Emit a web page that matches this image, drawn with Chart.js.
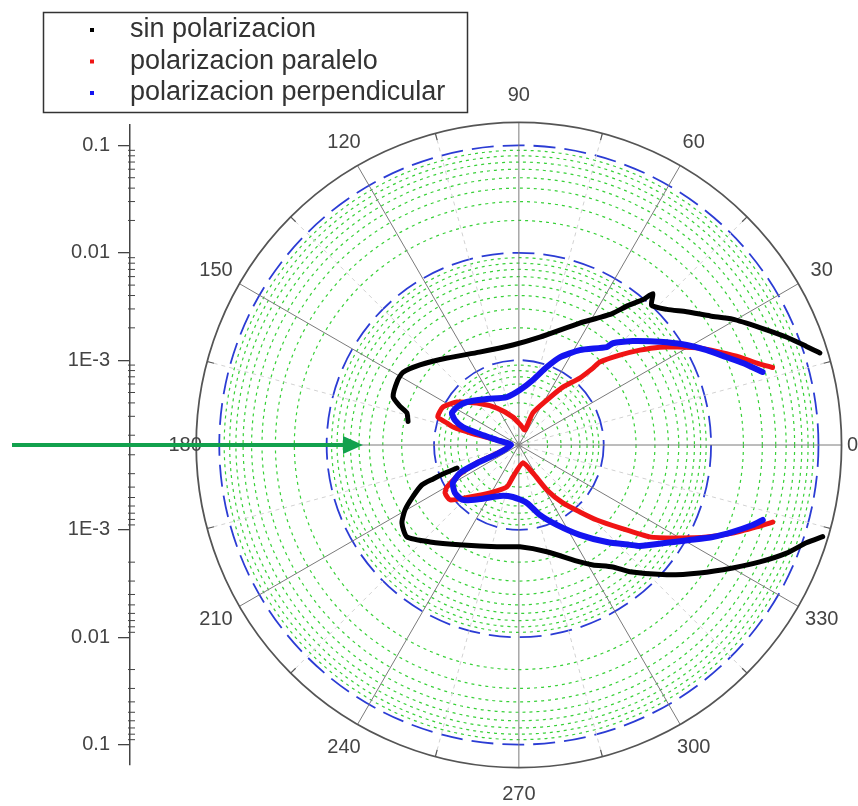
<!DOCTYPE html>
<html>
<head>
<meta charset="utf-8">
<script src="https://cdn.jsdelivr.net/npm/chart.js@4/dist/chart.umd.min.js"></script>
<style>
  html, body { margin: 0; padding: 0; background: #fff; }
  #wrap { width: 858px; height: 806px; }
</style>
</head>
<body>
<div id="wrap"><canvas id="polarChart" width="858" height="806"></canvas></div>
<script>
// Intensidad vs angulo (grados), eje radial logaritmico
const seriesNames = ['sin polarizacion', 'polarizacion paralelo', 'polarizacion perpendicular'];
const seriesColors = ['#000000', '#f01414', '#1414f0'];

// sin polarizacion (null = hueco en los datos)
const blackAngle = [17, 19, 22, 26, 30.5, 34, 38.5, 42.5, 46.5, 48.5, 49.5, 52, 54.5, 57.5, 63.5, 79, 93.5, 113, 129.5, 141, 148, 152, 159, 162, 164, 168,
  null,
  200.4, 200.8, 201.6, 202.4, 206, 209.7, 213.7, 219.4, 227.5, 240.8, 257.8, 270.6, 284.7, 297.5, 301.7, 307.6, 311.2, 318.7, 324.7, 330.1, 334.1, 338, 341.2, 343.2];
const blackValue = [0.138, 0.109, 0.0785, 0.0508, 0.0331, 0.0229, 0.016, 0.012, 0.0101, 0.0124, 0.0098, 0.0072, 0.0052, 0.00416, 0.00301, 0.00171, 0.00139, 0.00141, 0.00182, 0.00248, 0.00305, 0.00308, 0.00291, 0.00236, 0.00197, 0.00184,
  null,
  0.000667, 0.000881, 0.00117, 0.00154, 0.00203, 0.00269, 0.0033, 0.00362, 0.00272, 0.00189, 0.00151, 0.00144, 0.00173, 0.00274, 0.00333, 0.0044, 0.00601, 0.011, 0.0187, 0.0321, 0.0505, 0.0791, 0.109, 0.146];

// polarizacion paralelo
const redAngle = [17, 19, 21.7, 24.8, 28.2, 31.8, 34.8, 38.1, 41.7, 45.7, 46.1, 47.7, 52.8, 58.1, 66.4, 68.2, 85, 102, 120.7, 135, 145.3, 153.4, 160.9, 163, 164.7, 166, 167, 180,
  200.9, 203, 206.5, 210.3, 213, 218.6, 226.7, 238.9, 254, 259.4, 282.5, 296.6, 301.9, 307.2, 312.3, 316.1, 320.6, 324.9, 329.5, 333.9, 337.6, 341, 343.1];
const redValue = [0.0478, 0.0358, 0.0265, 0.0186, 0.0132, 0.00871, 0.00641, 0.00438, 0.00294, 0.00195, 0.0016, 0.00113, 0.000771, 0.000505, 0.000344, 0.00023, 0.000249, 0.000299, 0.000407, 0.00058, 0.000817, 0.001, 0.00102, 0.000813, 0.000701, 0.00046, 0.000263, 0.000192,
  0.000262, 0.00043, 0.00068, 0.000968, 0.00107, 0.00107, 0.000748, 0.000538, 0.000414, 0.000326, 0.00024, 0.000317, 0.000505, 0.000771, 0.00113, 0.00165, 0.00267, 0.00499, 0.00822, 0.0144, 0.0231, 0.0356, 0.0478];

// polarizacion perpendicular
const blueAngle = [16.7, 20.1, 22.9, 26.8, 30.8, 34.8, 38.4, 42.4, 47.3, 48.1, 57.3, 65, 70.3, 77.8, 89, 104, 124.8, 140.4, 148.5, 154.5, 158.7, 162.2, 164.2, 167.2, 180,
  202.5, 203.5, 205.4, 209.9, 216.9, 224.5, 234.2, 249.6, 263.4, 277.9, 286.7, 295.4, 304.1, 312.2, 318, 320.1, 326.5, 330.9, 334.6, 337.9, 341.1, 342.9];
const blueValue = [0.0379, 0.0269, 0.0204, 0.0148, 0.0107, 0.00771, 0.00583, 0.00442, 0.00316, 0.00272, 0.00182, 0.00129, 0.000957, 0.000675, 0.000527, 0.000468, 0.000538, 0.000689, 0.000769, 0.000796, 0.000706, 0.000571, 0.000386, 0.000263, 0.000192,
  0.000272, 0.000432, 0.000656, 0.00083, 0.000899, 0.000871, 0.000676, 0.00052, 0.000498, 0.000568, 0.000776, 0.00108, 0.00166, 0.00269, 0.00398, 0.00474, 0.00726, 0.0107, 0.0161, 0.0229, 0.0324, 0.0385];

const angleTicks = [0, 30, 60, 90, 120, 150, 180, 210, 240, 270, 300, 330];
const radialTicks = [0.1, 0.01, 0.001];
const radialTickLabels = ['0.1', '0.01', '1E-3'];
const radialMinor = [2, 3, 4, 5, 6, 7, 8, 9];

// rango radial en log10: centro del grafico y anillo exterior
const logCenter = -3.79;
const logOuter = -0.785;

const FONT = '"Liberation Sans", Arial, sans-serif';

function toXY(angles, values) {
  return angles.map((a, i) => {
    const v = values[i];
    if (a == null || v == null) return { x: NaN, y: NaN };
    const r = Math.log10(v) - logCenter;
    const t = a * Math.PI / 180;
    return { x: r * Math.cos(t), y: r * Math.sin(t) };
  });
}

const polarGrid = {
  id: 'polarGrid',
  beforeDatasetsDraw(chart) {
    const { ctx } = chart;
    const xs = chart.scales.x, ys = chart.scales.y;
    const cx = xs.getPixelForValue(0), cy = ys.getPixelForValue(0);
    const unit = ys.getPixelForValue(0) - ys.getPixelForValue(1);
    const rad = v => (Math.log10(v) - logCenter) * unit;
    const R = (logOuter - logCenter) * unit;

    ctx.save();
    // circulos menores (verde)
    ctx.strokeStyle = '#38d038';
    ctx.lineWidth = 1.2;
    ctx.setLineDash([3, 4]);
    [0.0001, 0.001, 0.01].forEach(base => {
      radialMinor.forEach(k => {
        const v = k * base;
        if (Math.log10(v) <= logCenter) return;
        ctx.beginPath();
        ctx.arc(cx, cy, rad(v), 0, Math.PI * 2);
        ctx.stroke();
      });
    });
    // circulos de decada (azul)
    ctx.strokeStyle = '#2b3cd4';
    ctx.lineWidth = 1.8;
    ctx.setLineDash([22, 9]);
    radialTicks.forEach(v => {
      ctx.beginPath();
      ctx.arc(cx, cy, rad(v), 0, Math.PI * 2);
      ctx.stroke();
    });
    // lineas radiales menores
    ctx.strokeStyle = '#d2d2d2';
    ctx.lineWidth = 1;
    ctx.setLineDash([4, 4]);
    angleTicks.forEach(a => {
      const t = (a + 15) * Math.PI / 180;
      ctx.beginPath();
      ctx.moveTo(cx, cy);
      ctx.lineTo(cx + R * Math.cos(t), cy - R * Math.sin(t));
      ctx.stroke();
    });
    // lineas radiales cada 30
    ctx.setLineDash([]);
    ctx.strokeStyle = '#7a7a7a';
    angleTicks.forEach(a => {
      const t = a * Math.PI / 180;
      ctx.beginPath();
      ctx.moveTo(cx, cy);
      ctx.lineTo(cx + R * Math.cos(t), cy - R * Math.sin(t));
      ctx.stroke();
    });
    // anillo exterior con marcas
    ctx.strokeStyle = '#555';
    ctx.lineWidth = 1.8;
    ctx.beginPath();
    ctx.arc(cx, cy, R, 0, Math.PI * 2);
    ctx.stroke();
    ctx.lineWidth = 1.2;
    angleTicks.forEach(a => {
      const t = (a + 15) * Math.PI / 180;
      ctx.beginPath();
      ctx.moveTo(cx + R * Math.cos(t), cy - R * Math.sin(t));
      ctx.lineTo(cx + (R - 7) * Math.cos(t), cy - (R - 7) * Math.sin(t));
      ctx.stroke();
    });
    // marcas menores del eje vertical
    const ax = ys.right;
    ctx.strokeStyle = '#444';
    ctx.lineWidth = 1;
    [1, -1].forEach(s => {
      [0.0001, 0.001, 0.01].forEach(base => {
        radialMinor.forEach(k => {
          const v = k * base;
          const r = Math.log10(v) - logCenter;
          if (r <= 0) return;
          const py = ys.getPixelForValue(s * r);
          ctx.beginPath();
          ctx.moveTo(ax - 2, py);
          ctx.lineTo(ax + 5, py);
          ctx.stroke();
        });
      });
    });
    ctx.restore();
  },
  afterDatasetsDraw(chart) {
    const { ctx } = chart;
    const xs = chart.scales.x, ys = chart.scales.y;
    const cx = xs.getPixelForValue(0), cy = ys.getPixelForValue(0);
    const unit = ys.getPixelForValue(0) - ys.getPixelForValue(1);
    const R = (logOuter - logCenter) * unit;

    ctx.save();
    // etiquetas angulares
    ctx.fillStyle = '#444';
    ctx.font = '20px ' + FONT;
    ctx.textAlign = 'center';
    ctx.textBaseline = 'middle';
    angleTicks.forEach(a => {
      const t = a * Math.PI / 180;
      const rr = Math.abs(Math.sin(t)) < 0.01 ? R + 11 : R + 27;
      ctx.fillText(String(a), cx + rr * Math.cos(t), cy - rr * Math.sin(t));
    });

    // leyenda
    ctx.strokeStyle = '#333';
    ctx.lineWidth = 1.5;
    ctx.strokeRect(43.5, 12.5, 424, 100);
    ctx.font = '27px ' + FONT;
    ctx.textAlign = 'left';
    ctx.textBaseline = 'alphabetic';
    seriesNames.forEach((name, i) => {
      const by = 37 + i * 31.5;
      ctx.fillStyle = seriesColors[i];
      ctx.fillRect(90, by - 9, 4, 4);
      ctx.fillStyle = '#333';
      ctx.fillText(name, 130, by);
    });

    // flecha verde
    ctx.strokeStyle = '#12a14d';
    ctx.fillStyle = '#12a14d';
    ctx.lineWidth = 4;
    ctx.beginPath();
    ctx.moveTo(12, cy);
    ctx.lineTo(346, cy);
    ctx.stroke();
    ctx.beginPath();
    ctx.moveTo(363, cy);
    ctx.lineTo(343, cy - 9);
    ctx.lineTo(343, cy + 9);
    ctx.closePath();
    ctx.fill();
    ctx.restore();
  }
};

const ctx = document.getElementById('polarChart').getContext('2d');
const polarChart = new Chart(ctx, {
  type: 'scatter',
  data: {
    datasets: [
      { label: seriesNames[0], data: toXY(blackAngle, blackValue), borderColor: seriesColors[0], borderWidth: 5, order: 2 },
      { label: seriesNames[1], data: toXY(redAngle, redValue), borderColor: seriesColors[1], borderWidth: 5, order: 1 },
      { label: seriesNames[2], data: toXY(blueAngle, blueValue), borderColor: seriesColors[2], borderWidth: 6, order: 0 }
    ].map(d => Object.assign(d, {
      showLine: true, pointRadius: 0, spanGaps: false, tension: 0.2,
      borderCapStyle: 'round', borderJoinStyle: 'round', backgroundColor: d.borderColor
    }))
  },
  options: {
    responsive: false,
    animation: false,
    layout: { padding: { top: 125, bottom: 41, left: 0, right: 0 } },
    plugins: { legend: { display: false }, tooltip: { enabled: false } },
    scales: {
      x: { type: 'linear', display: false, min: -3.62, max: 3.157 },
      y: {
        type: 'linear',
        position: 'left',
        min: -2.98,
        max: 2.98,
        afterFit: s => { s.width = 130; },
        afterBuildTicks: s => {
          const t = [];
          radialTicks.forEach(v => {
            const r = Math.log10(v) - logCenter;
            t.push({ value: r }, { value: -r });
          });
          s.ticks = t.sort((a, b) => a.value - b.value);
        },
        ticks: {
          autoSkip: false,
          padding: 8,
          color: '#444',
          font: { family: FONT, size: 20 },
          callback: v => {
            const i = radialTicks.findIndex(rv => Math.abs(Math.abs(v) - (Math.log10(rv) - logCenter)) < 1e-6);
            return i >= 0 ? radialTickLabels[i] : '';
          }
        },
        grid: { drawOnChartArea: false, tickLength: 12, color: '#444', lineWidth: 1.3 },
        border: { color: '#444', width: 1.5 }
      }
    }
  },
  plugins: [polarGrid]
});
</script>
</body>
</html>
